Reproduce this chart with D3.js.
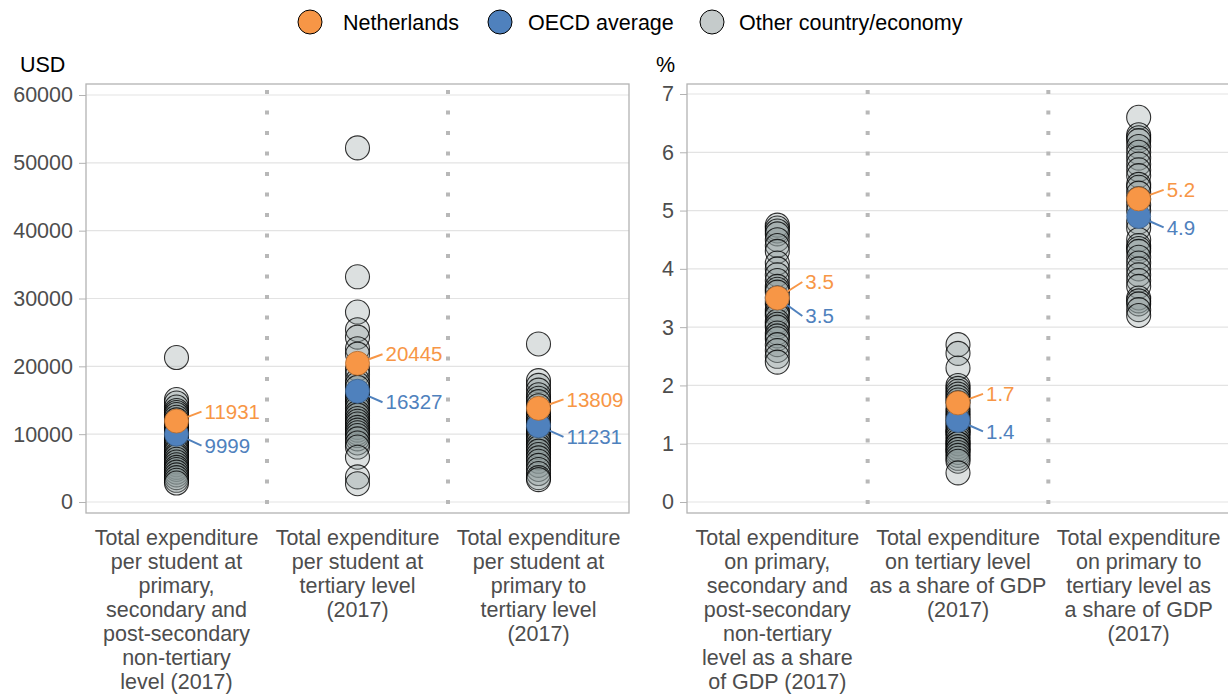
<!DOCTYPE html>
<html>
<head>
<meta charset="utf-8">
<script src="https://cdn.jsdelivr.net/npm/d3@7"></script>
<style>
  body { margin: 0; background: #fff; }
  svg { font-family: "Liberation Sans", Arial, sans-serif; }
</style>
</head>
<body>
<script>
var width = 1228,
    height = 695,
    r = 12;

// Category (x) labels, one line per array entry
var usdCategories = [
  ["Total expenditure", "per student at", "primary,", "secondary and", "post-secondary", "non-tertiary", "level (2017)"],
  ["Total expenditure", "per student at", "tertiary level", "(2017)"],
  ["Total expenditure", "per student at", "primary to", "tertiary level", "(2017)"]
];
var pctCategories = [
  ["Total expenditure", "on primary,", "secondary and", "post-secondary", "non-tertiary", "level as a share", "of GDP (2017)"],
  ["Total expenditure", "on tertiary level", "as a share of GDP", "(2017)"],
  ["Total expenditure", "on primary to", "tertiary level as", "a share of GDP", "(2017)"]
];

// Values
var usdNetherlands = [11931, 20445, 13809];
var usdOecd = [9999, 16327, 11231];
var usdOthers = [
  [21300, 15100, 14600, 14000, 13500, 13200, 12900, 12500, 12100, 11600, 11200, 10900, 10500, 10200, 9800,
   9400, 9100, 8800, 8500, 8100, 7700, 7400, 7000, 6700, 6300, 5900, 5500, 5100, 4800, 4400, 4000, 3600, 3200, 2800],
  [52200, 33200, 28000, 25400, 24300, 22600, 21800, 19600, 18800, 17900, 17400, 16900, 16100, 15600, 15200,
   14800, 14300, 13800, 13200, 12800, 12300, 11900, 11500, 11000, 10600, 10200, 9800, 9300, 8700, 8100, 6600, 3700, 2700],
  [23300, 17900, 17200, 16500, 15800, 15300, 14800, 14200, 13600, 13100, 12600, 12200, 11700, 11300, 10900,
   10500, 10100, 9700, 9300, 8900, 8400, 8000, 7500, 7000, 6500, 6000, 5400, 4800, 4200, 3600, 3300]
];

var pctNetherlands = [3.5, 1.7, 5.2];
var pctOecd = [3.5, 1.4, 4.9];
var pctOthers = [
  [4.75, 4.7, 4.65, 4.6, 4.5, 4.4, 4.3, 4.1, 4.0, 3.9, 3.8, 3.7, 3.65, 3.6, 3.5, 3.45, 3.4, 3.3, 3.25, 3.2,
   3.1, 3.05, 3.0, 2.9, 2.85, 2.8, 2.7, 2.6, 2.5, 2.4],
  [2.7, 2.55, 2.3, 2.0, 1.95, 1.9, 1.85, 1.8, 1.75, 1.7, 1.6, 1.55, 1.5, 1.45, 1.4, 1.35, 1.3, 1.25, 1.2, 1.2,
   1.15, 1.1, 1.05, 1.0, 1.0, 0.95, 0.9, 0.9, 0.85, 0.8, 0.75, 0.7, 0.5],
  [6.6, 6.3, 6.25, 6.2, 6.1, 6.0, 5.9, 5.8, 5.7, 5.6, 5.45, 5.4, 5.3, 5.2, 5.1, 5.0, 4.8, 4.7, 4.5, 4.4,
   4.35, 4.3, 4.2, 4.1, 4.0, 3.9, 3.8, 3.7, 3.5, 3.45, 3.4, 3.3, 3.2]
];

var usdTicks = [0, 10000, 20000, 30000, 40000, 50000, 60000];
var pctTicks = [0, 1, 2, 3, 4, 5, 6, 7];

var orange = "#f79646",
    blue = "#4f81bd",
    grey = "#c5cbcb";

var fontSize = 21.5;

var svg = d3.select("body").append("svg")
    .attr("width", width)
    .attr("height", height);

// Legend
var legendItems = [
  { label: "Netherlands", color: orange, x: 310, tx: 33 },
  { label: "OECD average", color: blue, x: 500, tx: 28 },
  { label: "Other country/economy", color: grey, x: 712, tx: 27 }
];
var legend = svg.selectAll("g.legend")
    .data(legendItems)
    .enter().append("g")
    .attr("transform", function (d) { return "translate(" + d.x + ",22)"; });
legend.append("circle")
    .attr("r", r)
    .attr("fill", function (d) { return d.color; })
    .attr("stroke", "#000")
    .attr("stroke-width", 1);
legend.append("text")
    .attr("x", function (d) { return d.tx; })
    .attr("dy", "0.35em")
    .attr("font-size", fontSize)
    .attr("fill", "#000")
    .text(function (d) { return d.label; });

//Panel drawing
function drawPanel(opt) {
  var g = svg.append("g");
  var x = d3.scaleBand()
      .domain(d3.range(opt.categories.length))
      .range([opt.left, opt.right]);
  var y = d3.scaleLinear()
      .domain(opt.domain)
      .range([502, opt.topY]);

  // grid
  g.selectAll("line.grid")
    .data(opt.ticks)
    .enter().append("line")
    .attr("x1", opt.left).attr("x2", opt.right)
    .attr("y1", function (d) { return y(d); })
    .attr("y2", function (d) { return y(d); })
    .attr("stroke", "#e3e3e3")
    .attr("stroke-width", 1.2);

  // separators
  g.selectAll("line.sep")
    .data(d3.range(1, opt.categories.length))
    .enter().append("line")
    .attr("x1", function (d) { return x(d); })
    .attr("x2", function (d) { return x(d); })
    .attr("y1", 84).attr("y2", 513)
    .attr("stroke", "#b8b8b8")
    .attr("stroke-width", 4)
    .attr("stroke-dasharray", "4,16.5")
    .attr("stroke-dashoffset", -6);

  // border
  g.append("rect")
    .attr("x", opt.left).attr("y", 84)
    .attr("width", opt.right - opt.left).attr("height", 513 - 84)
    .attr("fill", "none")
    .attr("stroke", "#b3b3b3")
    .attr("stroke-width", 1.3);

  // y axis
  var axis = g.append("g")
      .attr("transform", "translate(" + opt.left + ",0)")
      .call(d3.axisLeft(y).tickValues(opt.ticks).tickSize(7).tickPadding(6).tickFormat(d3.format("d")));
  axis.select(".domain").remove();
  axis.selectAll(".tick line").attr("stroke", "#b3b3b3");
  axis.selectAll(".tick text")
    .attr("font-size", fontSize)
    .attr("font-family", "Liberation Sans, Arial, sans-serif")
    .attr("fill", "#4d4d4d");

  g.append("text")
    .attr("x", opt.unitX).attr("y", 72)
    .attr("font-size", fontSize)
    .attr("fill", "#000")
    .text(opt.unit);

  // x labels
  opt.categories.forEach(function (lines, i) {
    var t = g.append("text")
        .attr("text-anchor", "middle")
        .attr("font-size", fontSize)
        .attr("fill", "#4d4d4d");
    lines.forEach(function (line, j) {
      t.append("tspan")
        .attr("x", x(i) + x.bandwidth() / 2)
        .attr("y", 545 + j * 24)
        .text(line);
    });
  });

  // other countries
  opt.others.forEach(function (vals, i) {
    g.selectAll(null)
      .data(vals)
      .enter().append("circle")
      .attr("cx", x(i) + x.bandwidth() / 2)
      .attr("cy", function (d) { return y(d); })
      .attr("r", r)
      .attr("fill", "#8c9999")
      .attr("fill-opacity", 0.3)
      .attr("stroke", "#000")
      .attr("stroke-opacity", 0.8)
      .attr("stroke-width", 1.1);
  });

  // highlighted points
  opt.categories.forEach(function (c, i) {
    var cx = x(i) + x.bandwidth() / 2;
    var yo = y(opt.oecd[i]), yn = y(opt.nl[i]);
    g.append("circle").attr("cx", cx).attr("cy", yo).attr("r", r)
      .attr("fill", blue).attr("stroke", "#3a5f8c").attr("stroke-width", 0.8);
    g.append("circle").attr("cx", cx).attr("cy", yn).attr("r", r)
      .attr("fill", orange).attr("stroke", "#b06a2e").attr("stroke-width", 0.8);

    // simple repel of the two labels
    var ln = yn - 9, lo = yo + 11;
    if (lo - ln < 34) {
      var mid = (ln + lo) / 2;
      ln = mid - 17; lo = mid + 17;
    }
    [[yn, ln, orange, opt.nl[i]], [yo, lo, blue, opt.oecd[i]]].forEach(function (p) {
      var lx = cx + 28, dx = lx - 3 - cx, dy = p[1] - p[0];
      var len = Math.sqrt(dx * dx + dy * dy);
      g.append("line")
        .attr("x1", cx + dx / len * r).attr("y1", p[0] + dy / len * r)
        .attr("x2", lx - 3).attr("y2", p[1])
        .attr("stroke", p[2]).attr("stroke-width", 2);
      g.append("text")
        .attr("x", lx).attr("y", p[1])
        .attr("dy", "0.35em")
        .attr("font-size", 20.5)
        .attr("fill", p[2])
        .text(opt.fmt(p[3]));
    });
  });
}

drawPanel({
  left: 86, right: 629, topY: 95,
  domain: [0, 60000], ticks: usdTicks,
  categories: usdCategories, others: usdOthers,
  nl: usdNetherlands, oecd: usdOecd,
  unit: "USD", unitX: 20, fmt: d3.format("d")
});

drawPanel({
  left: 687, right: 1229, topY: 94,
  domain: [0, 7], ticks: pctTicks,
  categories: pctCategories, others: pctOthers,
  nl: pctNetherlands, oecd: pctOecd,
  unit: "%", unitX: 656, fmt: d3.format(".1f")
});
</script>
</body>
</html>
